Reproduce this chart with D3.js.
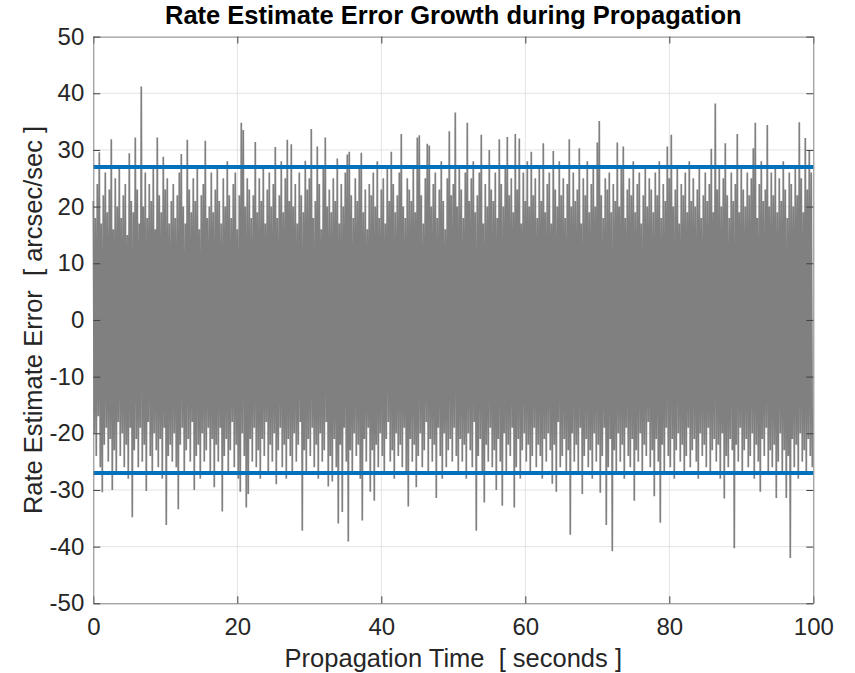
<!DOCTYPE html>
<html>
<head>
<meta charset="utf-8">
<script src="https://cdn.jsdelivr.net/npm/d3@7/dist/d3.min.js"></script>
<style>
  body { margin: 0; background: #fff; }
  svg { display: block; }
  text { white-space: pre; }
</style>
</head>
<body>
<svg id="chart" width="855" height="673"></svg>
<script>
// Values (MATLAB figure)
const title = "Rate Estimate Error Growth during Propagation"
const xLabel = "Propagation Time  [ seconds ]"
const yLabel = "Rate Estimate Error  [ arcsec/sec ]"
const xTicks = [0, 20, 40, 60, 80, 100]
const yTicks = [-50, -40, -30, -20, -10, 0, 10, 20, 30, 40, 50]
const duration = 100
const bounds = [27, -27]

// local upper / lower excursions of the error signal, one pair per 100/360 s
const peakHigh = [
  21, 18, 24, 29.6, 17, 22, 26, 19, 23, 31.9, 16, 25, 20, 27, 18, 22, 24, 15, 29.4, 21,
  19, 32.2, 23, 17, 41.2, 20, 26, 18, 24, 21, 27, 16, 32.2, 22, 19, 28.8, 23, 25, 17, 21,
  24, 18, 22, 26, 29.3, 20, 17, 31.8, 23, 19, 25, 21, 27, 16, 22, 24, 31.6, 18, 20, 26,
  19, 23, 27, 21, 17, 25, 20, 28, 22, 18, 24, 26, 16, 22, 34.8, 33.5, 20, 25, 23, 18,
  22, 31.4, 19, 25, 21, 27, 17, 23, 26, 20, 24, 30.5, 18, 22, 28, 19, 25, 31.8, 21, 31.0,
  20, 24, 17, 26, 22, 19, 28.1, 23, 25, 33.7, 18, 21, 30.6, 24, 16, 27, 32.2, 20, 23, 19,
  25, 21, 28.5, 17, 24, 20, 26, 29.2, 29.7, 22, 18, 25, 21, 27, 29.5, 19, 23, 16, 24, 22,
  26, 20, 28, 18, 23, 25, 17, 27, 21, 29.7, 24, 19, 22, 26, 32.8, 20, 18, 25, 23, 21,
  27, 19, 32.2, 32.6, 22, 17, 25, 31.1, 30.8, 20, 24, 26, 18, 23, 28, 21, 16, 25, 33.3, 22,
  24, 36.6, 20, 27, 23, 18, 26, 34.8, 21, 25, 28, 19, 22, 26, 32.7, 17, 24, 20, 30, 23,
  21, 26, 18, 31.9, 24, 20, 27, 32.3, 22, 25, 19, 32.8, 23, 32.0, 17, 26, 21, 28, 20, 29.7,
  22, 25, 18, 27, 21, 31.2, 19, 24, 26, 17, 29.8, 23, 20, 28, 22, 25, 18, 24, 31.9, 20,
  26, 21, 23, 30.3, 17, 25, 22, 28, 19, 24, 27, 20, 31.3, 35.1, 22, 18, 25, 23, 26, 19,
  24, 21, 31.3, 20, 27, 30.6, 18, 23, 25, 22, 28, 19, 24, 26, 17, 22, 27, 20, 25, 23,
  19, 26, 22, 28, 18, 24, 21, 30.6, 25, 32.7, 20, 23, 27, 17, 24, 22, 26, 19, 28, 21,
  25, 20, 23, 27, 18, 22, 26, 21, 24, 30.2, 19, 38.2, 23, 27, 20, 25, 31.2, 22, 18, 26,
  21, 24, 32.8, 19, 27, 23, 20, 26, 22, 25, 30.3, 34.8, 18, 24, 28, 21, 23, 34.4, 20, 26,
  22, 27, 19, 25, 21, 28, 23, 18, 26, 24, 20, 27, 22, 34.9, 25, 19, 32.1, 23, 30, 26
]
const peakLow = [
  -20, -24, -17, -26, -30.4, -22, -19, -25, -21, -30, -23, -27, -18, -24, -20, -26, -22, -28, -19, -34.8,
  -23, -21, -26, -19, -25, -22, -30.2, -18, -24, -27, -20, -23, -26, -21, -28, -19, -36.2, -24, -22, -25,
  -20, -26, -33.4, -22, -19, -27, -23, -21, -25, -18, -30, -24, -22, -28, -20, -25, -23, -19, -27, -21,
  -29.5, -22, -25, -19, -33.8, -24, -21, -27, -23, -18, -26, -22, -28, -30.3, -20, -24, -33.1, -30.7, -21, -25,
  -19, -26, -23, -28, -21, -24, -18, -27, -22, -25, -20, -29, -23, -19, -26, -22, -28, -21, -24, -27,
  -20, -25, -22, -18, -37.2, -23, -27, -21, -24, -19, -26, -22, -28, -20, -25, -23, -18, -29.4, -24, -28.5,
  -21, -26, -35.9, -22, -33.9, -19, -25, -39.1, -23, -27, -20, -24, -22, -28, -35.4, -21, -25, -19, -30.3, -23,
  -31.9, -22, -26, -20, -24, -27, -21, -18, -25, -23, -28, -20, -24, -22, -26, -19, -27, -32.9, -21, -25,
  -22, -29.5, -24, -20, -26, -23, -18, -27, -21, -25, -22, -31.4, -19, -24, -28, -20, -26, -23, -21, -25,
  -19, -24, -27, -21, -25, -22, -28, -20, -23, -26, -18, -37.2, -24, -21, -27, -32.2, -22, -25, -19, -26,
  -23, -30, -21, -25, -32.8, -20, -27, -22, -24, -19, -33.1, -26, -21, -28, -23, -20, -25, -22, -27, -24,
  -19, -26, -22, -24, -28, -21, -25, -20, -23, -28.9, -22, -30.3, -18, -26, -24, -21, -27, -23, -37.9, -20,
  -25, -22, -27, -19, -30.7, -24, -21, -26, -23, -28, -20, -25, -22, -30.5, -24, -19, -36.2, -26, -21, -40.8,
  -23, -27, -20, -25, -22, -28, -19, -24, -26, -21, -31.9, -23, -25, -20, -27, -22, -24, -18, -26, -23,
  -31.1, -21, -25, -35.8, -22, -27, -19, -24, -26, -21, -28, -23, -20, -25, -22, -27, -24, -19, -26, -23,
  -21, -25, -28, -20, -24, -22, -26, -19, -27, -23, -21, -25, -22, -28, -20, -31.5, -24, -26, -21, -23,
  -40.3, -22, -25, -19, -27, -23, -21, -26, -24, -20, -28, -22, -25, -30.3, -21, -24, -19, -27, -23, -26,
  -22, -31.4, -25, -20, -27, -23, -31.4, -24, -42, -21, -26, -22, -28, -20, -25, -23, -27, -21, -24, -26
]

const W = 855, H = 673
const margin = { top: 36.6, right: 41.7, bottom: 69.7, left: 93.3 }
const FONT = "'Liberation Sans', Arial, Helvetica, sans-serif"
const TEXT_COLOR = "#262626"

function drawChart() {
  const svg = d3.select("#chart")
  const iw = W - margin.left - margin.right
  const ih = H - margin.top - margin.bottom

  const x = d3.scaleLinear().domain([0, duration]).range([0, iw])
  const y = d3.scaleLinear().domain([-50, 50]).range([ih, 0])

  const g = svg.append("g").attr("transform", `translate(${margin.left},${margin.top})`)

  // grid (below data, like MATLAB)
  g.append("g")
    .selectAll("line")
    .data(xTicks.slice(1, -1))
    .join("line")
    .attr("x1", d => x(d)).attr("x2", d => x(d))
    .attr("y1", 0).attr("y2", ih)
    .attr("stroke", "#e3e3e3").attr("stroke-width", 1)
  g.append("g")
    .selectAll("line")
    .data(yTicks.slice(1, -1))
    .join("line")
    .attr("y1", d => y(d)).attr("y2", d => y(d))
    .attr("x1", 0).attr("x2", iw)
    .attr("stroke", "#e3e3e3").attr("stroke-width", 1)

  // noise trace: alternate upper and lower excursions
  const dt = duration / peakHigh.length
  const pts = peakHigh.flatMap((h, i) => [[i * dt, h], [i * dt + dt / 2, peakLow[i]]])
  const line = d3.line().x(d => x(d[0])).y(d => y(d[1]))
  g.append("path")
    .datum(pts)
    .attr("d", line)
    .attr("fill", "none")
    .attr("stroke", "#808080")
    .attr("stroke-width", 1.7)
    .attr("stroke-linejoin", "bevel")

  // +/- bounds
  g.append("g")
    .selectAll("line")
    .data(bounds)
    .join("line")
    .attr("x1", x(0)).attr("x2", x(duration))
    .attr("y1", d => y(d)).attr("y2", d => y(d))
    .attr("stroke", "#0072BD")
    .attr("stroke-width", 4)

  // axes with inward ticks
  const styleAxis = sel => {
    sel.attr("font-family", FONT).attr("font-size", 24)
    sel.select(".domain").attr("stroke", "#808080").attr("stroke-width", 1)
    sel.selectAll(".tick line").attr("stroke", "#404040")
    sel.selectAll(".tick text").attr("fill", TEXT_COLOR)
  }
  const fmt = d => String(d)
  g.append("g").attr("transform", `translate(0,${ih})`)
    .call(d3.axisBottom(x).tickValues(xTicks).tickFormat(fmt).tickSizeInner(-7).tickSizeOuter(0).tickPadding(15))
    .call(styleAxis)
  g.append("g")
    .call(d3.axisTop(x).tickValues(xTicks).tickSizeInner(-7).tickSizeOuter(0).tickFormat(""))
    .call(styleAxis)
  g.append("g")
    .call(d3.axisLeft(y).tickValues(yTicks).tickFormat(fmt).tickSizeInner(-7).tickSizeOuter(0).tickPadding(9))
    .call(styleAxis)
  g.append("g").attr("transform", `translate(${iw},0)`)
    .call(d3.axisRight(y).tickValues(yTicks).tickSizeInner(-7).tickSizeOuter(0).tickFormat(""))
    .call(styleAxis)

  // labels
  svg.append("text")
    .attr("x", margin.left + iw / 2).attr("y", 24)
    .attr("text-anchor", "middle")
    .attr("font-family", FONT).attr("font-weight", "bold").attr("font-size", 25.5)
    .attr("fill", "#000")
    .text(title)
  svg.append("text")
    .attr("x", margin.left + iw / 2).attr("y", 667)
    .attr("text-anchor", "middle")
    .attr("font-family", FONT).attr("font-size", 25.5)
    .attr("fill", TEXT_COLOR)
    .text(xLabel)
  svg.append("text")
    .attr("transform", `translate(42,${margin.top + ih / 2}) rotate(-90)`)
    .attr("text-anchor", "middle")
    .attr("font-family", FONT).attr("font-size", 25.5)
    .attr("fill", TEXT_COLOR)
    .text(yLabel)
}

drawChart()
</script>
</body>
</html>
